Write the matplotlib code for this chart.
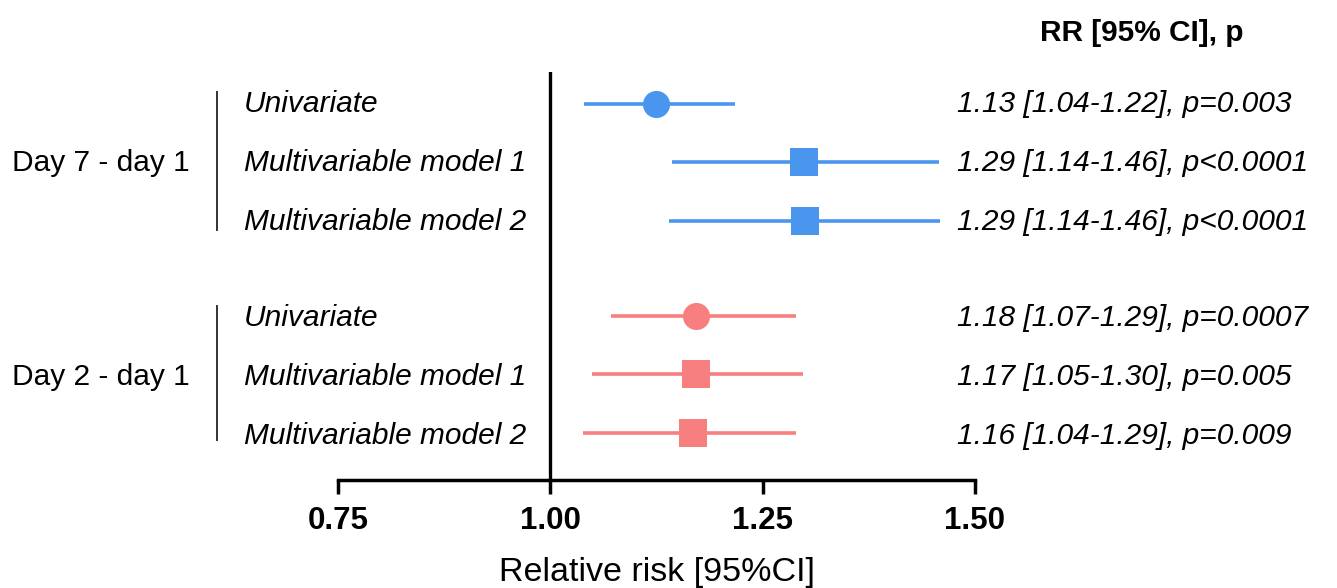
import matplotlib
matplotlib.use("Agg")
import matplotlib.pyplot as plt

plt.rcParams['font.family'] = ['Liberation Sans', 'DejaVu Sans']

# ---- data ----
groups = ["Day 7 - day 1", "Day 2 - day 1"]
models = ["Univariate", "Multivariable model 1", "Multivariable model 2"]
rr_day7 = [1.124, 1.299, 1.300]
lo_day7 = [1.040, 1.143, 1.140]
hi_day7 = [1.218, 1.458, 1.459]
rr_day2 = [1.171, 1.172, 1.168]
lo_day2 = [1.071, 1.049, 1.039]
hi_day2 = [1.289, 1.298, 1.289]
labels_day7 = ["1.13 [1.04-1.22], p=0.003",
               "1.29 [1.14-1.46], p<0.0001",
               "1.29 [1.14-1.46], p<0.0001"]
labels_day2 = ["1.18 [1.07-1.29], p=0.0007",
               "1.17 [1.05-1.30], p=0.005",
               "1.16 [1.04-1.29], p=0.009"]
markers = ["o", "s", "s"]
xticks = [0.75, 1.00, 1.25, 1.50]
xtick_labels = ["0.75", "1.00", "1.25", "1.50"]

W, H = 1337, 588
fig = plt.figure(figsize=(W / 100, H / 100), dpi=100)
ax_l, ax_r, ax_t, ax_b = 338, 975, 72, 480
ax = fig.add_axes([ax_l / W, 1 - ax_b / H, (ax_r - ax_l) / W, (ax_b - ax_t) / H])

blue = "#4a96ee"
pink = "#f77f7f"

ypos7 = [0, 1, 2]
ypos2 = [3.62, 4.62, 5.62]

for ys, rr, lo, hi, col in [(ypos7, rr_day7, lo_day7, hi_day7, blue),
                            (ypos2, rr_day2, lo_day2, hi_day2, pink)]:
    for y, r, l, h, m in zip(ys, rr, lo, hi, markers):
        ax.plot([l, h], [y, y], color=col, lw=2.6, solid_capstyle='butt', zorder=2)
        ms = 19.5 if m == "o" else 20
        ax.plot([r], [y], marker=m, color=col, markersize=ms, markeredgewidth=0, zorder=3)

ax.set_xlim(0.75, 1.5)
ax.set_ylim(6.42, -0.54)
ax.axvline(1.0, color="black", lw=2.4, zorder=1)

for s in ["left", "top", "right"]:
    ax.spines[s].set_visible(False)
ax.spines["bottom"].set_linewidth(2.5)
ax.set_yticks([])
ax.set_xticks(xticks)
ax.set_xticklabels(xtick_labels, fontsize=22.5, fontweight="bold")
ax.tick_params(axis="x", length=10, width=2.5, pad=9)
ax.set_xlabel("Relative risk [95%CI]", fontsize=24.5, labelpad=15)


def fx(px):
    return px / W


def fy(py):
    return 1 - py / H


def row_py(y):
    return 104 + y * 59


# labels
for ys, labs in [(ypos7, labels_day7), (ypos2, labels_day2)]:
    for y, name, lab in zip(ys, models, labs):
        fig.text(fx(244), fy(row_py(y)), name, fontsize=21.5, style="italic",
                 ha="left", va="center")
        fig.text(fx(957), fy(row_py(y)), lab, fontsize=21.5, style="italic",
                 ha="left", va="center")

for g, ys in zip(groups, [ypos7, ypos2]):
    fig.text(fx(190), fy(row_py(ys[1])), g, fontsize=21.5, ha="right", va="center")

# brackets
fig.add_artist(plt.Line2D([fx(217), fx(217)], [fy(92), fy(230)], color="#333333", lw=1.4))
fig.add_artist(plt.Line2D([fx(217), fx(217)], [fy(306), fy(440)], color="#333333", lw=1.4))

fig.text(fx(1142), fy(33), "RR [95% CI], p", fontsize=21.5, fontweight="bold",
         ha="center", va="center")

fig.savefig("out.png", dpi=100)
